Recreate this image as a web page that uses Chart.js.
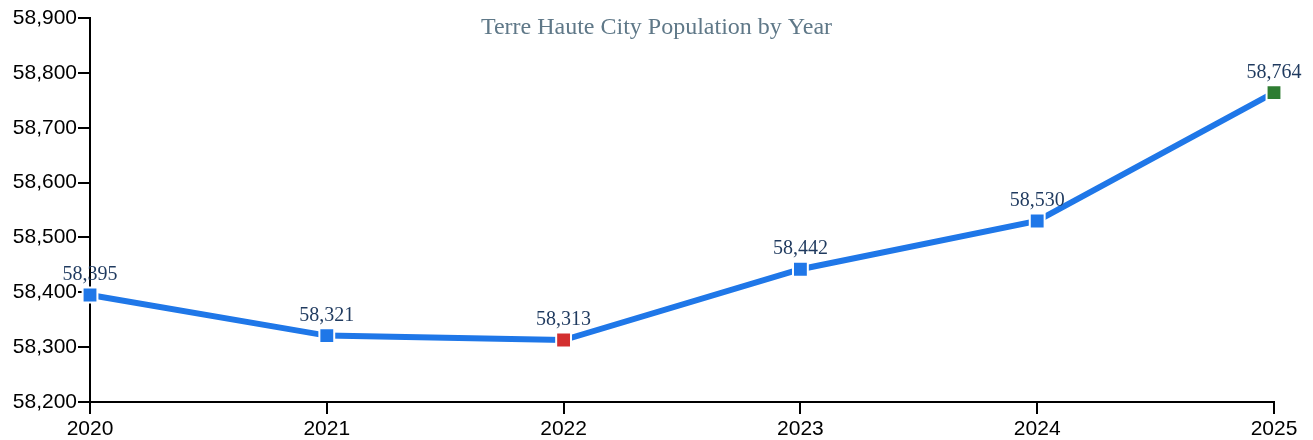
<!DOCTYPE html>
<html>
<head>
<meta charset="utf-8">
<script src="https://cdn.jsdelivr.net/npm/chart.js@4"></script>
<style>
  html, body { margin: 0; padding: 0; background: #fff; }
  #wrap { width: 1313px; height: 440px; }
</style>
</head>
<body>
<div id="wrap"><canvas id="popChart"></canvas></div>
<script>
const years = ['2020', '2021', '2022', '2023', '2024', '2025'];
const population = [58395, 58321, 58313, 58442, 58530, 58764];
const pointColors = ['#1f77e8', '#1f77e8', '#d32f2f', '#1f77e8', '#1f77e8', '#2e7d32'];
const titleText = 'Terre Haute City Population by Year';

// title sits over the plot, draw it by hand so it takes no layout space
const titlePlugin = {
    id: 'floatTitle',
    afterDraw(chart) {
        const ctx = chart.ctx;
        ctx.save();
        ctx.font = '24px "Liberation Serif", "Times New Roman", serif';
        ctx.fillStyle = '#5f7888';
        ctx.textAlign = 'center';
        ctx.textBaseline = 'middle';
        ctx.fillText(titleText, chart.width / 2, 28);
        ctx.restore();
    }
};

const valueLabels = {
    id: 'valueLabels',
    afterDatasetsDraw(chart) {
        const ctx = chart.ctx;
        const meta = chart.getDatasetMeta(0);
        ctx.save();
        ctx.font = '20px "Liberation Serif", "Times New Roman", serif';
        ctx.fillStyle = '#1f3a5f';
        ctx.textAlign = 'center';
        ctx.textBaseline = 'middle';
        meta.data.forEach((pt, i) => {
            ctx.fillText(population[i].toLocaleString('en-US'), pt.x, pt.y - 20);
        });
        ctx.restore();
    }
};

new Chart(document.getElementById('popChart').getContext('2d'), {
    type: 'line',
    data: {
        labels: years,
        datasets: [{
            data: population,
            borderColor: '#1f77e8',
            borderWidth: 6,
            tension: 0,
            pointStyle: 'rect',
            pointRadius: 10.5,
            pointHoverRadius: 10.5,
            pointBackgroundColor: pointColors,
            pointBorderColor: '#ffffff',
            pointBorderWidth: 2
        }]
    },
    options: {
        responsive: true,
        maintainAspectRatio: false,
        animation: false,
        layout: { padding: { top: 18, right: 39, left: 0, bottom: 0 } },
        plugins: {
            legend: { display: false },
            title: { display: false },
            tooltip: { enabled: false }
        },
        scales: {
            x: {
                type: 'category',
                offset: false,
                afterFit(scale) { scale.height = 38; },
                border: { display: true, color: '#000', width: 2 },
                grid: { drawOnChartArea: false, color: '#000', lineWidth: 2, tickLength: 12 },
                ticks: {
                    color: '#000',
                    padding: 3,
                    maxRotation: 0,
                    font: { family: '"Liberation Sans", Arial, sans-serif', size: 21 }
                }
            },
            y: {
                min: 58200,
                max: 58900,
                afterFit(scale) { scale.width = 90; },
                border: { display: true, color: '#000', width: 2 },
                grid: { drawOnChartArea: false, color: '#000', lineWidth: 2, tickLength: 12 },
                ticks: {
                    stepSize: 100,
                    color: '#000',
                    padding: 1,
                    font: { family: '"Liberation Sans", Arial, sans-serif', size: 21 },
                    callback: v => v.toLocaleString('en-US')
                }
            }
        }
    },
    plugins: [titlePlugin, valueLabels]
});
</script>
</body>
</html>
